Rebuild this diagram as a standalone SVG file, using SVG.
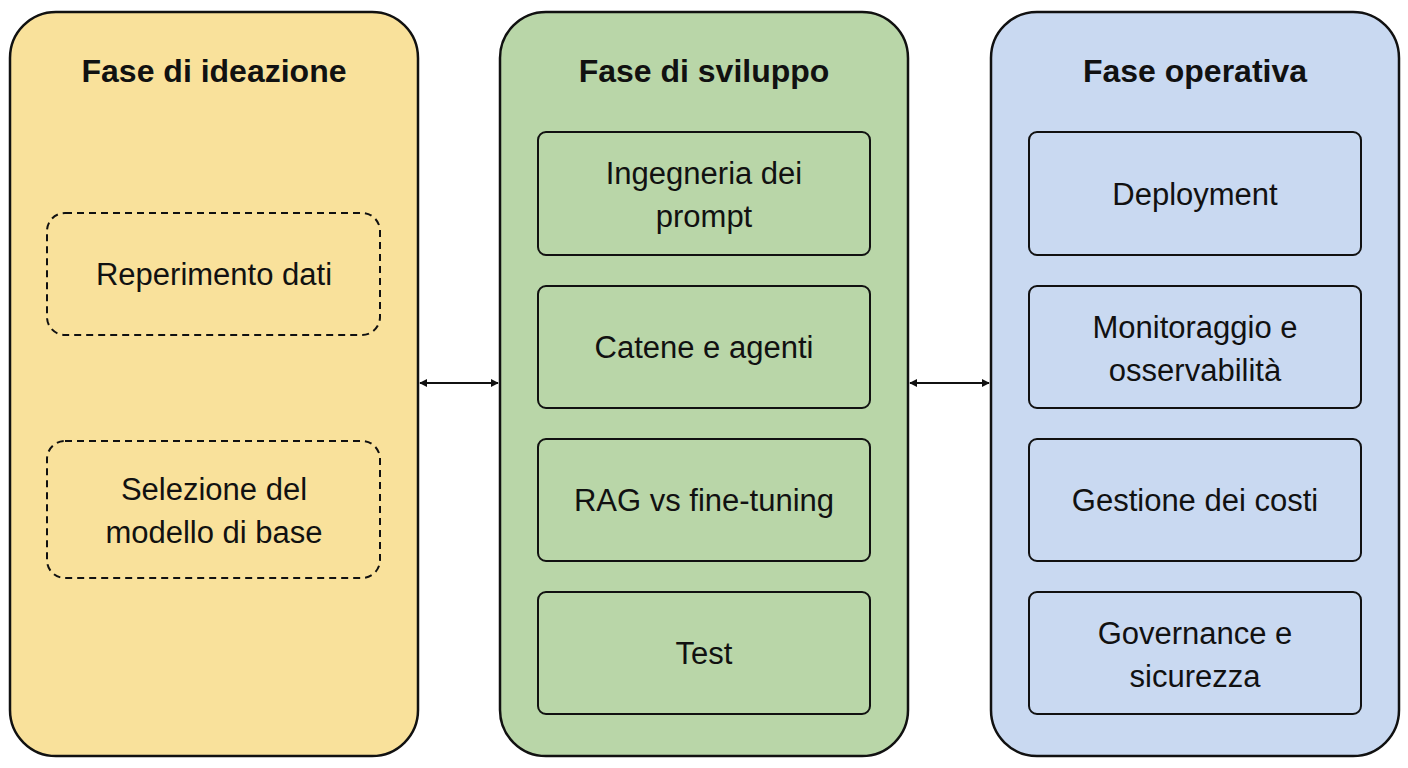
<svg xmlns="http://www.w3.org/2000/svg" width="1408" height="768" viewBox="0 0 1408 768">
<style>
.p{stroke:#111;stroke-width:2.5}
.b{stroke:#111;stroke-width:2;rx:8}
.d{fill:none;stroke:#111;stroke-width:2;stroke-dasharray:7 5}
text{font-family:"Liberation Sans",Arial,sans-serif;font-size:31px;fill:#111;text-anchor:middle}
.t{font-weight:bold;font-size:32px}
</style>
<defs><marker id="a" viewBox="0 0 10 10" refX="9" refY="5" markerWidth="8" markerHeight="8" orient="auto-start-reverse" markerUnits="userSpaceOnUse"><path d="M0,0 L10,5 L0,10 z" fill="#111"/></marker></defs>
<rect width="1408" height="768" fill="#fff"/>
<g id="ideazione"><rect class="p" x="10" y="12" width="408" height="744" rx="46" fill="#f9e19b"/><text class="t" x="214" y="82">Fase di ideazione</text></g>
<g id="sviluppo"><rect class="p" x="500" y="12" width="408" height="744" rx="46" fill="#b9d6a8"/><text class="t" x="704" y="82">Fase di sviluppo</text></g>
<g id="operativa"><rect class="p" x="991" y="12" width="408" height="744" rx="46" fill="#c9d9f1"/><text class="t" x="1195" y="82">Fase operativa</text></g>
<g id="reperimento"><rect class="d" x="47" y="213" width="333" height="122" rx="18"/><text x="214" y="285">Reperimento dati</text></g>
<g id="selezione"><rect class="d" x="47" y="441" width="333" height="137" rx="18"/><text x="214" y="500">Selezione del</text><text x="214" y="543">modello di base</text></g>
<g id="ingegneria"><rect class="b" x="538" y="132" width="332" height="123" fill="#b9d6a8"/><text x="704" y="184">Ingegneria dei</text><text x="704" y="227">prompt</text></g>
<g id="catene"><rect class="b" x="538" y="286" width="332" height="122" fill="#b9d6a8"/><text x="704" y="358">Catene e agenti</text></g>
<g id="rag"><rect class="b" x="538" y="439" width="332" height="122" fill="#b9d6a8"/><text x="704" y="511">RAG vs fine-tuning</text></g>
<g id="test"><rect class="b" x="538" y="592" width="332" height="122" fill="#b9d6a8"/><text x="704" y="664">Test</text></g>
<g id="deployment"><rect class="b" x="1029" y="132" width="332" height="123" fill="#c9d9f1"/><text x="1195" y="205">Deployment</text></g>
<g id="monitoraggio"><rect class="b" x="1029" y="286" width="332" height="122" fill="#c9d9f1"/><text x="1195" y="338">Monitoraggio e</text><text x="1195" y="381">osservabilità</text></g>
<g id="costi"><rect class="b" x="1029" y="439" width="332" height="122" fill="#c9d9f1"/><text x="1195" y="511">Gestione dei costi</text></g>
<g id="governance"><rect class="b" x="1029" y="592" width="332" height="122" fill="#c9d9f1"/><text x="1195" y="644">Governance e</text><text x="1195" y="687">sicurezza</text></g>
<g id="connectors" stroke="#111" stroke-width="2">
<line x1="420" y1="383" x2="498" y2="383" marker-start="url(#a)" marker-end="url(#a)"/>
<line x1="910" y1="383" x2="989" y2="383" marker-start="url(#a)" marker-end="url(#a)"/>
</g>
</svg>
